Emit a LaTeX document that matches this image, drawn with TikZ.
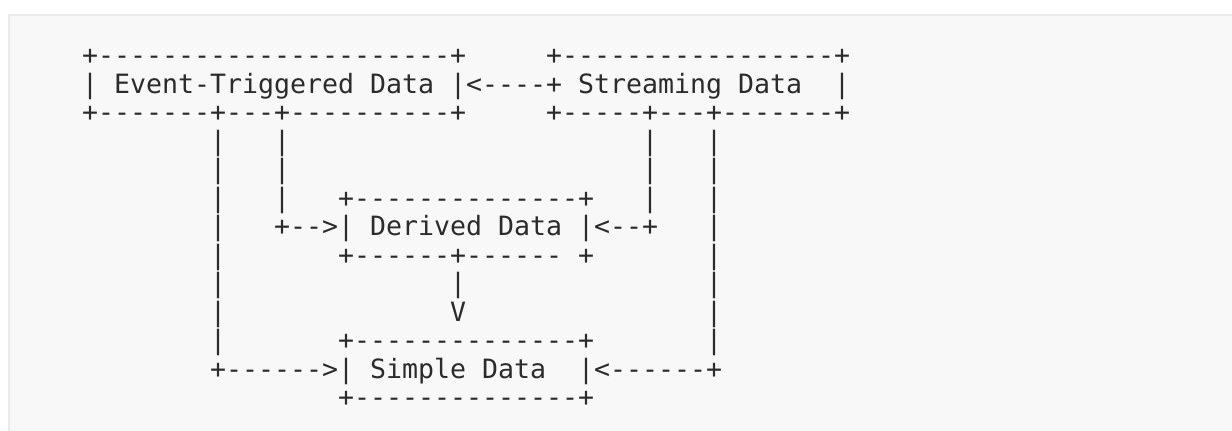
\documentclass[tikz,border=0pt]{standalone}
\usepackage{fontspec}
\setmonofont{DejaVu Sans Mono}
\usepackage{tikz}
\definecolor{panelbg}{HTML}{F8F8F8}
\definecolor{panelrule}{HTML}{EAEAEA}
\definecolor{ink}{HTML}{2B2B2B}

\begin{document}
\begin{tikzpicture}[x=0.5pt, y=-0.5pt,
    asc/.style={anchor=base west, inner sep=0pt, outer sep=0pt, text=ink,
                font=\ttfamily\fontsize{13.29pt}{14pt}\selectfont}]
    \useasboundingbox (0, 0) rectangle (1232, 430);
    \clip (0, 0) rectangle (1232, 430);
    \fill[white] (0, 0) rectangle (1232, 430);
    \draw[draw=panelrule, fill=panelbg, line width=1pt] (8.5, 14.5) rectangle (1245, 445);

    % top boxes
    \node[asc] at (82, 64.8)   (evtop) {+----------------------+};
    \node[asc] at (546, 64.8)  (sttop) {+-----------------+};
    \node[asc] at (82, 93.3)   (evmid) {| Event-Triggered Data |};
    \node[asc] at (466, 93.3)  (evarr) {<----};
    \node[asc] at (546, 93.3)  (stmid) {+ Streaming Data};
    \node[asc] at (834, 93.3)  (stend) {|};
    \node[asc] at (82, 121.8)  (evbot) {+-------+---+----------+};
    \node[asc] at (546, 121.8) (stbot) {+-----+---+-------+};

    % long side lines
    \foreach \r in {4,...,11} {
        \node[asc] at (210, {64.8+28.5*(\r-1)}) (lbar\r) {|};
        \node[asc] at (706, {64.8+28.5*(\r-1)}) (rbar\r) {|};
    }
    \foreach \r in {4,...,6} {
        \node[asc] at (274, {64.8+28.5*(\r-1)}) (ebar\r) {|};
        \node[asc] at (642, {64.8+28.5*(\r-1)}) (sbar\r) {|};
    }

    % derived data
    \node[asc] at (338, 207.3) (dvtop) {+--------------+};
    \node[asc] at (274, 235.8) (dvin)  {+-->};
    \node[asc] at (338, 235.8) (dvmid) {| Derived Data |};
    \node[asc] at (594, 235.8) (dvout) {<--+};
    \node[asc] at (338, 264.3) (dvbot) {+------+------ +};
    \node[asc] at (450, 292.8) (dvdown) {|};
    \node[asc] at (450, 321.3) (dvtip) {V};

    % simple data
    \node[asc] at (338, 349.8) (sitop) {+--------------+};
    \node[asc] at (210, 378.3) (siin)  {+------>};
    \node[asc] at (338, 378.3) (simid) {| Simple Data};
    \node[asc] at (578, 378.3) (siout) {|<------+};
    \node[asc] at (338, 406.8) (sibot) {+--------------+};
\end{tikzpicture}
\end{document}
